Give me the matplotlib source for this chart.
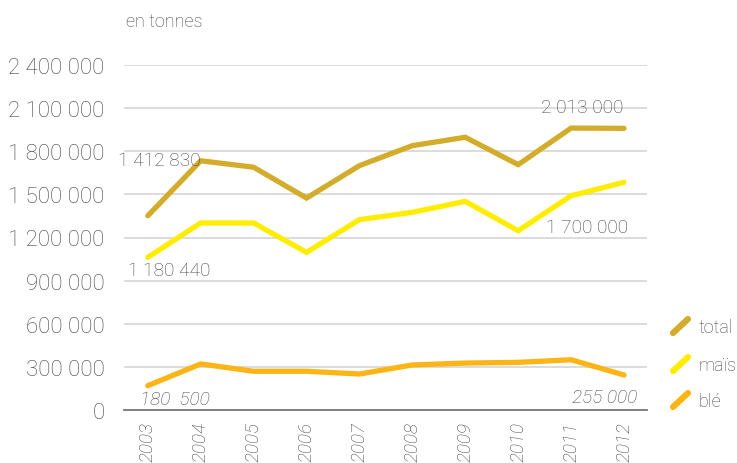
import matplotlib
matplotlib.use("Agg")
import matplotlib.pyplot as plt
from matplotlib.lines import Line2D

years = ["2003", "2004", "2005", "2006", "2007", "2008", "2009", "2010", "2011", "2012"]
total = [1351000, 1733000, 1688000, 1474000, 1699000, 1838000, 1896000, 1706000, 1960000, 1958000]
mais = [1062000, 1301000, 1301000, 1097000, 1324000, 1375000, 1451000, 1247000, 1490000, 1583000]
ble = [171000, 322000, 271000, 271000, 252000, 315000, 328000, 333000, 351000, 245000]
yticks = [0, 300000, 600000, 900000, 1200000, 1500000, 1800000, 2100000, 2400000]
ytick_labels = ["0", "300 000", "600 000", "900 000", "1 200 000", "1 500 000",
                "1 800 000", "2 100 000", "2 400 000"]
series_names = ["total", "maïs", "blé"]
colors = ["#D4AC2B", "#FFED00", "#FDB515"]

plt.rcParams['font.family'] = ['Roboto', 'DejaVu Sans']
txt = "#444444"

fig = plt.figure(figsize=(7.37, 4.64), dpi=100)
ax = fig.add_axes([124/737, 1-411.3/464, (647.3-124)/737, (411.3-65.7)/464])

x = list(range(len(years)))
for vals, c in zip([total, mais, ble], colors):
    ax.plot(x, vals, color=c, lw=3.8, solid_capstyle='round', solid_joinstyle='miter',
            clip_on=False, zorder=3)

ax.set_xlim(-0.45, 9.44)
ax.set_ylim(0, 2400000)
ax.set_yticks(yticks)
ax.set_yticklabels(ytick_labels, fontsize=16, color=txt, fontweight='light')
ax.set_xticks(x)
ax.set_xticklabels(years, rotation=90, fontsize=13.5, color=txt, style='italic',
                   fontweight='light', va='top')
ax.tick_params(axis='y', length=0, pad=14)
ax.tick_params(axis='x', length=0, pad=7.5)
for s in ['top', 'right', 'left']:
    ax.spines[s].set_visible(False)
ax.spines['bottom'].set_color('#777777')
ax.spines['bottom'].set_linewidth(1.3)
ax.grid(axis='y', color='#d5d5d5', lw=1.2)
ax.set_axisbelow(True)

# data labels
kw = dict(fontsize=13.8, color=txt, ha='center', va='center', fontweight='light')
ax.text(0.21, 1738000, "1 412 830", **kw)
ax.text(0.41, 971000, "1 180 440", **kw)
ax.text(0.51, 78000, "180  500", style='italic', **kw)
ax.text(8.21, 2104000, "2 013 000", **kw)
ax.text(8.31, 1273000, "1 700 000", **kw)
ax.text(8.63, 92000, "255 000", style='italic', **kw)

fig.text(126/737, 1-22/464, "en tonnes", fontsize=13, color=txt, ha='left', va='center',
         fontweight='light')

# legend
leg_y = [328, 366, 402]
for name, c, yy in zip(series_names, colors, leg_y):
    fig.add_artist(Line2D([673/737, 688/737], [1-(yy+6)/464, 1-(yy-8)/464],
                          transform=fig.transFigure, color=c, lw=4.5,
                          solid_capstyle='round'))
    fig.text(699/737, 1-yy/464, name, fontsize=13, color=txt, ha='left', va='center',
             fontweight='light')

fig.savefig("out.png", dpi=100)
